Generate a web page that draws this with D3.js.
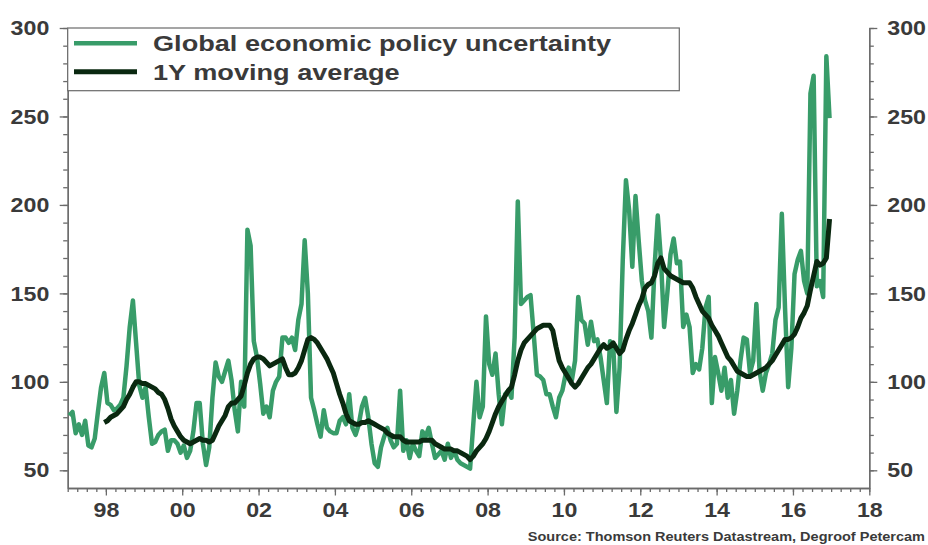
<!DOCTYPE html>
<html>
<head>
<meta charset="utf-8">
<script src="https://cdn.jsdelivr.net/npm/d3@7"></script>
<style>
  body { margin: 0; background: #fff; }
  svg { display: block; font-family: "Liberation Sans", Arial, sans-serif; font-weight: bold; }
</style>
</head>
<body>
<div id="chart"></div>
<script>
// Monthly data, Jan 1997 .. Dec 2016
const startYear = 1997;
const epu = [
  81, 83, 71, 76, 70, 78, 64, 63, 68, 83, 97, 105,        // 1997
  88, 87, 84, 85, 87, 91, 109, 131, 146, 122, 98, 91,     // 1998
  97, 80, 65, 66, 70, 72, 73, 61, 67, 67, 65, 60,         // 1999
  64, 57, 61, 72, 88, 88, 65, 53, 63, 91, 111, 103,       // 2000
  100, 106, 112, 101, 84, 72, 100, 86, 186, 177, 123, 114, // 2001
  99, 82, 86, 80, 95, 100, 103, 125, 125, 122, 125, 118,  // 2002
  135, 144, 180, 150, 91, 84, 76, 69, 84, 74, 72, 71,     // 2003
  71, 78, 80, 76, 93, 74, 70, 76, 86, 91, 80, 65,         // 2004
  54, 52, 63, 69, 74, 67, 63, 65, 95, 61, 67, 57,         // 2005
  65, 61, 58, 72, 69, 74, 65, 57, 59, 61, 56, 65,         // 2006
  57, 61, 56, 54, 53, 52, 51, 76, 100, 80, 86, 137,       // 2007
  110, 104, 116, 93, 76, 93, 95, 91, 125, 202, 144, 146,  // 2008
  148, 149, 127, 104, 103, 101, 93, 93, 86, 80, 91, 95,   // 2009
  104, 108, 101, 112, 148, 135, 133, 121, 134, 123, 124, 114, // 2010
  101, 88, 123, 120, 83, 108, 169, 214, 197, 165, 205, 180,   // 2011
  157, 146, 140, 125, 165, 194, 169, 131, 150, 172, 181, 167, // 2012
  168, 131, 138, 131, 105, 110, 107, 119, 142, 148, 88, 114,  // 2013
  105, 95, 108, 91, 101, 82, 95, 112, 125, 124, 105, 112,     // 2014
  144, 106, 95, 105, 110, 116, 135, 142, 195, 142, 97, 119,   // 2015
  161, 169, 174, 157, 150, 263, 273, 154, 157, 148, 284, 249  // 2016
];

// 1Y moving average, starts Dec 1997
const maStart = 11;
const movingAvg = [
  77,
  78, 80, 81, 82, 84, 86, 90, 93, 97, 100, 100, 99,
  99, 98, 97, 96, 94, 93, 90, 85, 79, 75, 72, 69,
  67, 66, 65, 66, 67, 68, 67, 67, 66, 67, 71, 75,
  78, 81, 86, 88, 88, 90, 92, 98, 105, 110, 113, 114,
  114, 113, 111, 109, 110, 111, 112, 113, 108, 104, 104, 105,
  108, 112, 118, 124, 125, 124, 122, 119, 116, 113, 109, 105,
  99, 93, 88, 82, 78, 77, 76, 76, 77, 77, 78, 77,
  76, 75, 74, 73, 71, 70, 69, 69, 69, 67, 66, 66,
  66, 66, 66, 67, 67, 67, 67, 65, 64, 63, 62, 62,
  62, 61, 61, 60, 59, 58, 56, 58, 61, 63, 65, 68,
  72, 77, 82, 86, 89, 92, 95, 97, 104, 112, 118, 122,
  124, 126, 128, 130, 131, 132, 132, 132, 129, 120, 112, 108,
  105, 102, 99, 97, 99, 102, 105, 108, 110, 113, 116, 119,
  121, 119, 120, 122, 119, 116, 118, 124, 129, 133, 138, 143,
  147, 153, 155, 156, 160, 167, 170, 164, 162, 160, 159, 158,
  157, 156, 156, 156, 153, 148, 144, 140, 138, 136, 132, 129,
  126, 122, 118, 114, 112, 109, 106, 105, 104, 103, 103, 104,
  105, 106, 107, 108, 110, 112, 115, 118, 121, 124, 124, 125,
  127, 131, 136, 139, 143, 152, 160, 168, 166, 167, 170, 192
];

const seriesNames = ["Global economic policy uncertainty", "1Y moving average"];
const yTickValues = [50, 100, 150, 200, 250, 300];
const xTickValues = [1998, 2000, 2002, 2004, 2006, 2008, 2010, 2012, 2014, 2016, 2018];
const sourceText = "Source: Thomson Reuters Datastream, Degroof Petercam";

const dimensions = { width: 928, height: 545 };
const plot = { left: 67.7, right: 869.3, top: 28, bottom: 488 };
const colors = { green: "#389c69", dark: "#0a2810", axis: "#6a6a6a", text: "#3a3a3a" };
const stretch = 1.19; // text in the original is horizontally stretched

const epuData = epu.map((v, i) => ({ t: startYear + (i + 0.5) / 12, v }));
const maData = movingAvg.map((v, i) => ({ t: startYear + (i + maStart + 0.5) / 12, v }));

const svg = d3.select("#chart").append("svg")
  .attr("width", dimensions.width)
  .attr("height", dimensions.height);

const xScale = d3.scaleLinear().domain([1997, 2018]).range([plot.left, plot.right]);
const yScale = d3.scaleLinear().domain([40, 300]).range([plot.bottom, plot.top]);

// Axes
function styleAxis(g) {
  g.selectAll("path, line").attr("stroke", colors.axis).attr("stroke-width", 1.3);
  g.selectAll("text").attr("fill", colors.text).style("font-size", "19.5px");
}

// minor ticks first
svg.append("g").attr("transform", `translate(${plot.left},0)`)
  .call(d3.axisLeft(yScale).tickValues(d3.range(50, 301, 10)).tickSize(4.5).tickSizeOuter(0).tickFormat(""))
  .call(styleAxis);
svg.append("g").attr("transform", `translate(${plot.right},0)`)
  .call(d3.axisRight(yScale).tickValues(d3.range(50, 301, 10)).tickSize(4.5).tickSizeOuter(0).tickFormat(""))
  .call(styleAxis);
svg.append("g").attr("transform", `translate(0,${plot.bottom})`)
  .call(d3.axisBottom(xScale).tickValues(d3.range(1997, 2018.01, 0.25)).tickSize(4).tickSizeOuter(0).tickFormat(""))
  .call(styleAxis);

const yLeft = svg.append("g").attr("transform", `translate(${plot.left},0)`)
  .call(d3.axisLeft(yScale).tickValues(yTickValues).tickSize(8).tickSizeOuter(0))
  .call(styleAxis);
yLeft.selectAll("text").attr("x", -18.4 / stretch).attr("dy", "0.34em").attr("transform", `scale(${stretch},1)`);

const yRight = svg.append("g").attr("transform", `translate(${plot.right},0)`)
  .call(d3.axisRight(yScale).tickValues(yTickValues).tickSize(8).tickSizeOuter(0))
  .call(styleAxis);
yRight.selectAll("text").attr("x", 18 / stretch).attr("dy", "0.34em").attr("transform", `scale(${stretch},1)`);

const xAxis = svg.append("g").attr("transform", `translate(0,${plot.bottom})`)
  .call(d3.axisBottom(xScale).tickValues(xTickValues).tickSize(7.5).tickSizeOuter(0)
    .tickFormat((d) => String(d % 100).padStart(2, "0")))
  .call(styleAxis);
xAxis.selectAll("text").attr("y", 29).attr("dy", 0).attr("transform", `scale(${stretch},1)`);

// Lines
const line = d3.line().x((d) => xScale(d.t)).y((d) => yScale(d.v));

svg.append("path").datum(epuData)
  .attr("fill", "none").attr("stroke", colors.green).attr("stroke-width", 4.5)
  .attr("stroke-linejoin", "round").attr("d", line);

svg.append("path").datum(maData)
  .attr("fill", "none").attr("stroke", colors.dark).attr("stroke-width", 5)
  .attr("stroke-linejoin", "round").attr("d", line);

// Legend
const legend = svg.append("g");
legend.append("rect")
  .attr("x", plot.left).attr("y", plot.top)
  .attr("width", 679.3 - plot.left).attr("height", 90.7 - plot.top)
  .attr("fill", "#fff").attr("stroke", colors.axis).attr("stroke-width", 1.2);

const legendRows = [
  { name: seriesNames[0], color: colors.green, lineY: 43.3, textY: 50.7, width: 4.5 },
  { name: seriesNames[1], color: colors.dark, lineY: 71.7, textY: 79.5, width: 5 },
];
legendRows.forEach((r) => {
  legend.append("line")
    .attr("x1", 74).attr("x2", 137).attr("y1", r.lineY).attr("y2", r.lineY)
    .attr("stroke", r.color).attr("stroke-width", r.width);
  legend.append("text")
    .attr("transform", `translate(153,${r.textY}) scale(${stretch},1)`)
    .attr("fill", colors.text).style("font-size", "22.8px")
    .text(r.name);
});

// Source
svg.append("text")
  .attr("transform", `translate(925,541) scale(${stretch},1)`)
  .attr("text-anchor", "end")
  .attr("fill", colors.text).style("font-size", "12.2px")
  .text(sourceText);
</script>
</body>
</html>
